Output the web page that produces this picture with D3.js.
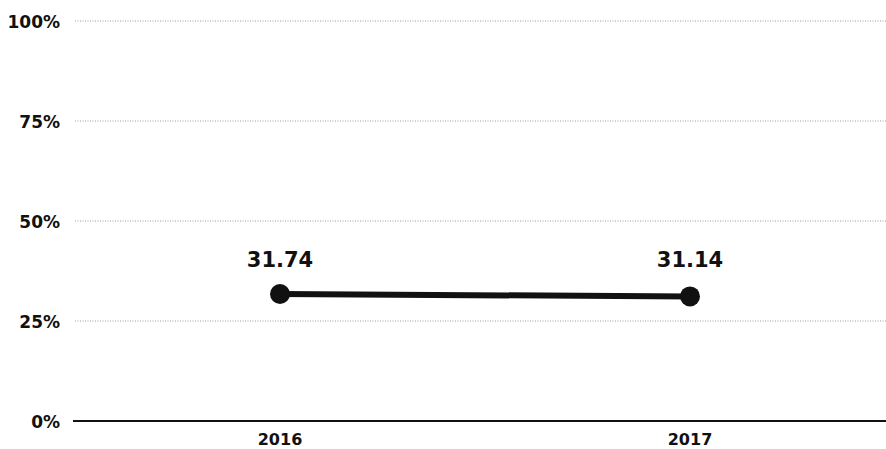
<!DOCTYPE html>
<html>
<head>
<meta charset="utf-8">
<script src="https://cdn.jsdelivr.net/npm/d3@7"></script>
<style>
  body { margin: 0; background: #fff; }
  text { font-family: "DejaVu Sans", Roboto, sans-serif; font-weight: 700; fill: #111; }
</style>
</head>
<body>
<svg id="chart" width="886" height="449"></svg>
<script>
const years = ['2016', '2017'];
const values = [31.74, 31.14];
const yTicks = [0, 25, 50, 75, 100];

const svg = d3.select('#chart');
const plotLeft = 75, plotRight = 886, plotTop = 21, plotBottom = 421;

const x = d3.scalePoint().domain(years).range([plotLeft, 895]).padding(0.5);
const y = d3.scaleLinear().domain([0, 100]).range([plotBottom, plotTop]);

// Grid lines - dotted and light
svg.append('g')
  .selectAll('line')
  .data(yTicks.filter(t => t > 0))
  .enter()
  .append('line')
  .attr('x1', plotLeft)
  .attr('x2', plotRight)
  .attr('y1', d => y(d))
  .attr('y2', d => y(d))
  .attr('stroke', '#888')
  .attr('stroke-width', 1)
  .attr('stroke-dasharray', '1,1.5')
  .attr('opacity', 0.8);

// Baseline
svg.append('line')
  .attr('x1', plotLeft - 2)
  .attr('x2', plotRight)
  .attr('y1', y(0))
  .attr('y2', y(0))
  .attr('stroke', '#111')
  .attr('stroke-width', 2);

// Y labels
svg.append('g')
  .selectAll('text')
  .data(yTicks)
  .enter()
  .append('text')
  .attr('x', 60)
  .attr('y', d => y(d) + 6.5)
  .attr('text-anchor', 'end')
  .style('font-size', '17px')
  .text(d => d + '%');

// X labels
svg.append('g')
  .selectAll('text')
  .data(years)
  .enter()
  .append('text')
  .attr('x', d => x(d))
  .attr('y', 445)
  .attr('text-anchor', 'middle')
  .style('font-size', '16px')
  .text(d => d);

// Line
const pts = years.map((yr, i) => ({ year: yr, value: values[i] }));
svg.append('path')
  .datum(pts)
  .attr('fill', 'none')
  .attr('stroke', '#111')
  .attr('stroke-width', 6)
  .attr('d', d3.line().x(d => x(d.year)).y(d => y(d.value)));

// Points
svg.append('g')
  .selectAll('circle')
  .data(pts)
  .enter()
  .append('circle')
  .attr('cx', d => x(d.year))
  .attr('cy', d => y(d.value))
  .attr('r', 10)
  .attr('fill', '#111');

// Value labels
svg.append('g')
  .selectAll('text')
  .data(pts)
  .enter()
  .append('text')
  .attr('x', d => x(d.year))
  .attr('y', 267)
  .attr('text-anchor', 'middle')
  .style('font-size', '21px')
  .text(d => d.value.toFixed(2));
</script>
</body>
</html>
